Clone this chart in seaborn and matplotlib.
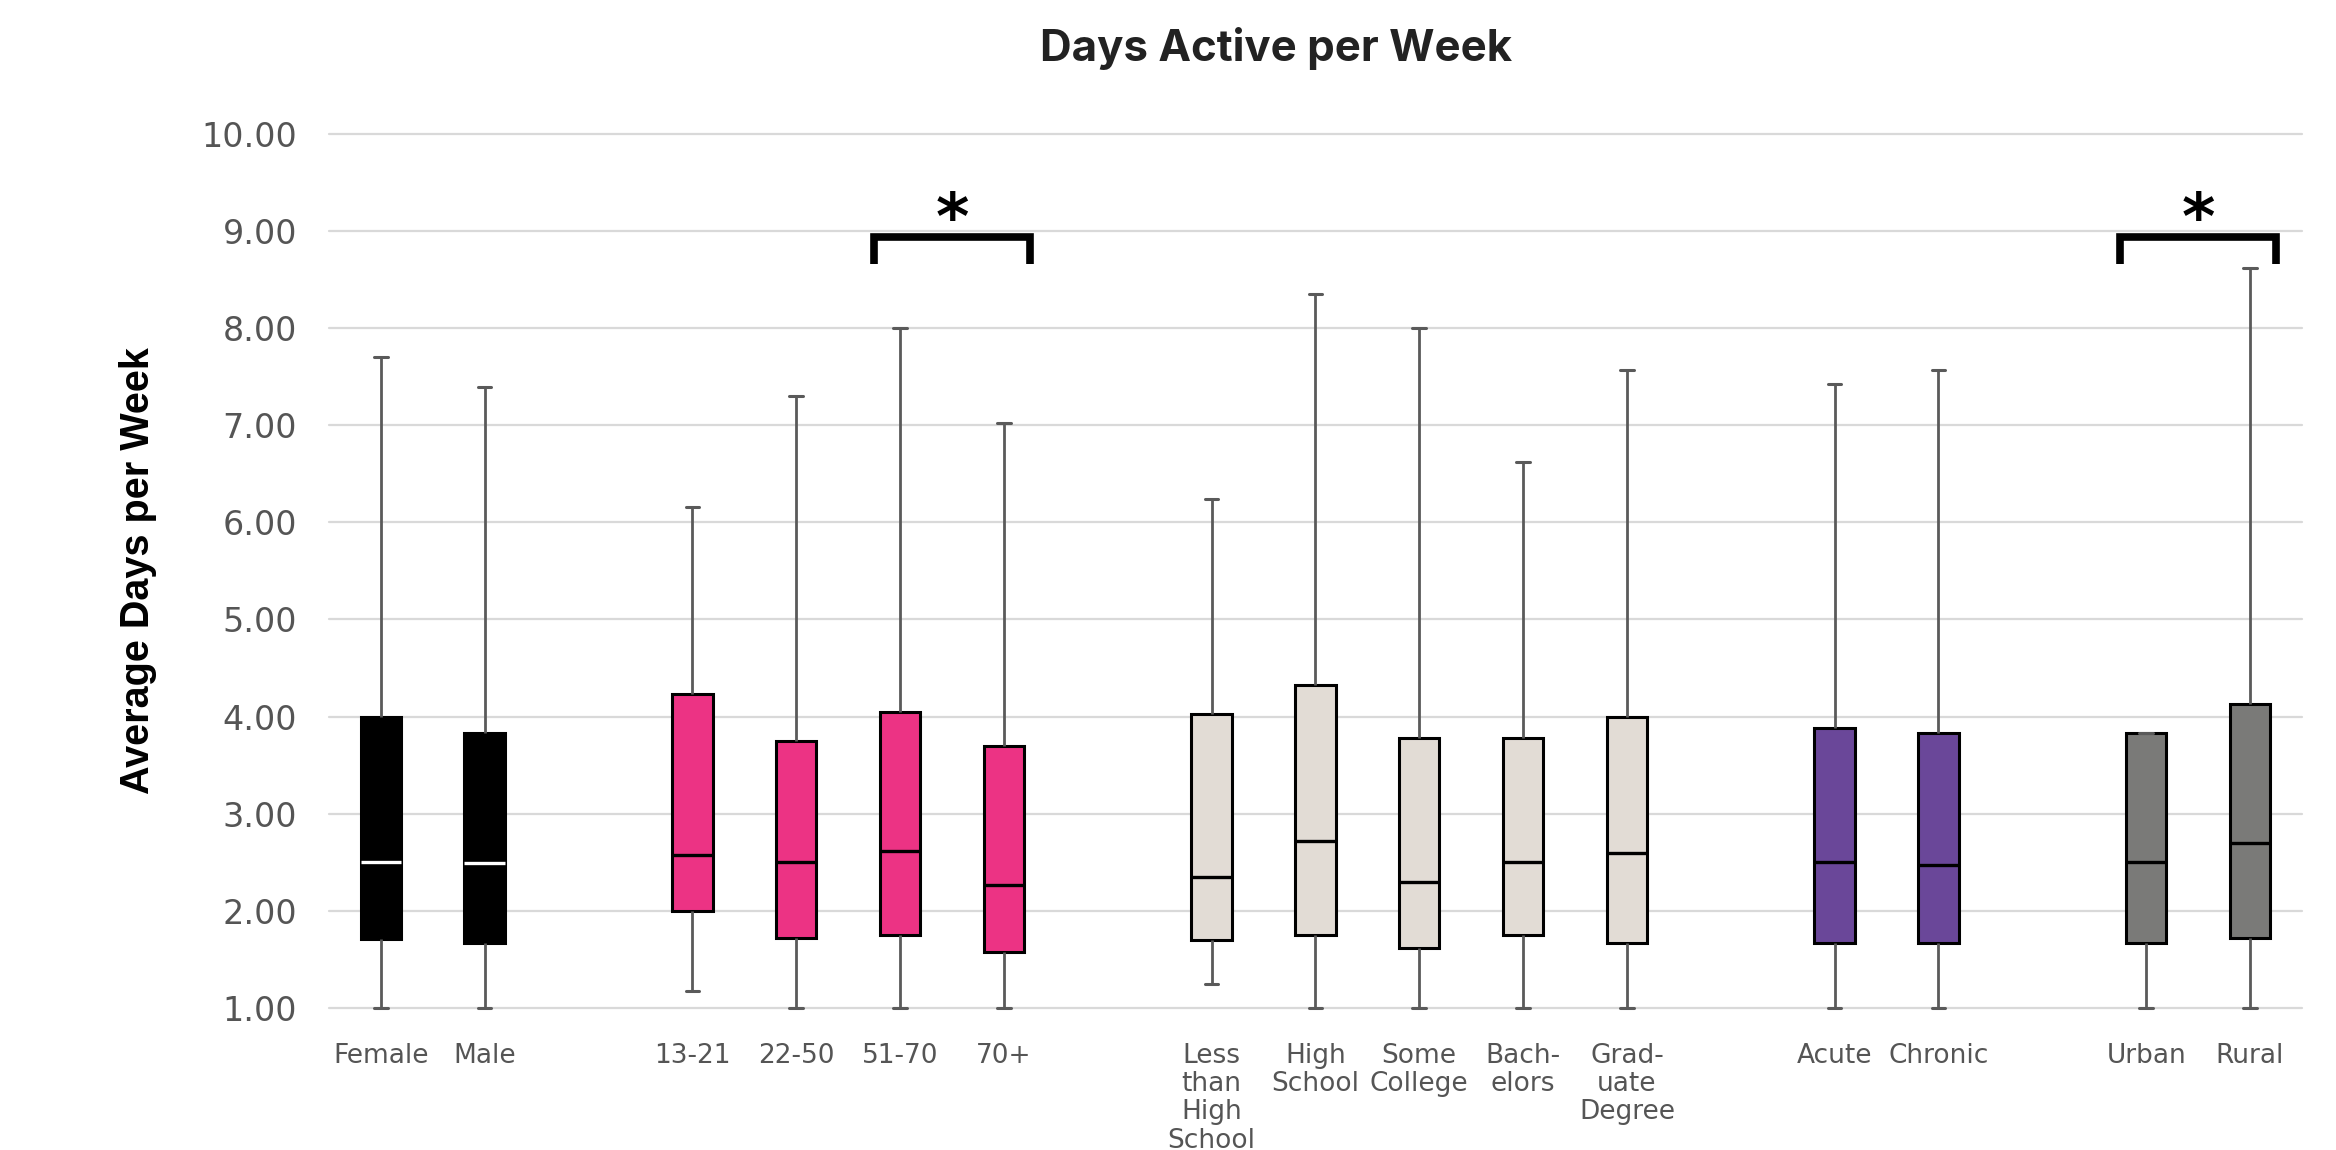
import matplotlib
matplotlib.use("Agg")
import matplotlib.pyplot as plt
import seaborn as sns
import pandas as pd
import numpy as np

# ---------------- data ----------------
categories = ["Female", "Male",
              "13-21", "22-50", "51-70", "70+",
              "Less than High School", "High School", "Some College", "Bachelors", "Graduate Degree",
              "Acute", "Chronic",
              "Urban", "Rural"]
tick_labels = ["Female", "Male",
               "13-21", "22-50", "51-70", "70+",
               "Less\nthan\nHigh\nSchool", "High\nSchool", "Some\nCollege", "Bach-\nelors", "Grad-\nuate\nDegree",
               "Acute", "Chronic",
               "Urban", "Rural"]
groups = ["Sex", "Sex",
          "Age", "Age", "Age", "Age",
          "Education", "Education", "Education", "Education", "Education",
          "Condition", "Condition",
          "Location", "Location"]
whisker_low = [1.00, 1.00, 1.17, 1.00, 1.00, 1.00, 1.25, 1.00, 1.00, 1.00, 1.00, 1.00, 1.00, 1.00, 1.00]
q1 =          [1.71, 1.67, 2.00, 1.72, 1.75, 1.58, 1.70, 1.75, 1.62, 1.75, 1.67, 1.67, 1.67, 1.67, 1.72]
median =      [2.50, 2.49, 2.57, 2.50, 2.62, 2.27, 2.35, 2.72, 2.30, 2.50, 2.60, 2.50, 2.47, 2.50, 2.70]
q3 =          [4.00, 3.83, 4.23, 3.75, 4.05, 3.70, 4.03, 4.33, 3.78, 3.78, 4.00, 3.88, 3.83, 3.83, 4.13]
whisker_high = [7.70, 7.39, 6.16, 7.30, 8.00, 7.02, 6.24, 8.35, 8.00, 6.62, 7.57, 7.42, 7.57, 3.83, 8.62]
significant_pairs = [("51-70", "70+"), ("Urban", "Rural")]

group_colors = {"Sex": "#000000", "Age": "#EC3384", "Education": "#E2DCD5",
                "Condition": "#6A4799", "Location": "#7A7A78"}
median_colors = {"Sex": "#FFFFFF", "Age": "#000000", "Education": "#000000",
                 "Condition": "#000000", "Location": "#000000"}

# ---------------- layout positions (gap of one slot between groups) ----------------
positions = []
p = 0
for i, g in enumerate(groups):
    if i > 0:
        p += 1 if g == groups[i - 1] else 2
    positions.append(p)
pos_of = dict(zip(categories, positions))

rows = []
for c, g, ps, a, b, m, d, e in zip(categories, groups, positions, whisker_low, q1, median, q3, whisker_high):
    for v in (a, b, m, d, e):
        rows.append({"category": c, "group": g, "pos": ps, "value": v})
df = pd.DataFrame(rows)

# ---------------- figure ----------------
sns.set_theme(style="white")
plt.rcParams["font.family"] = ["DejaVu Sans"]

fig = plt.figure(figsize=(23.36, 11.5), dpi=100)
ax = fig.add_axes([0.1408, 0.1235, 0.8446, 0.7602])

for g in dict.fromkeys(groups):
    sub = df[df["group"] == g]
    sns.boxplot(data=sub, x="pos", y="value", native_scale=True, ax=ax,
                width=0.39, whis=(0, 100), showfliers=False,
                color=group_colors[g], saturation=1, linecolor="black", linewidth=2.2,
                boxprops=dict(edgecolor="black", linewidth=2.2),
                medianprops=dict(color=median_colors[g], linewidth=2.4),
                whiskerprops=dict(color="#5a5a5a", linewidth=2.0),
                capprops=dict(color="#5a5a5a", linewidth=2.2),
                capwidths=0.13)

ax.set_xlim(-0.5, 18.5)
ax.set_ylim(1, 10)
ax.set_yticks(np.arange(1, 11))
ax.set_yticklabels([f"{v:.2f}" for v in np.arange(1, 11)])
ax.set_xticks(positions)
ax.set_xticklabels(tick_labels)

ax.grid(axis="y", color="#d9d9d9", linewidth=1.6)
ax.grid(axis="x", visible=False)
ax.set_axisbelow(True)
for s in ax.spines.values():
    s.set_visible(False)
for gl in ax.yaxis.get_gridlines():
    gl.set_clip_on(False)
for art in list(ax.lines) + list(ax.patches):
    art.set_clip_on(False)

ax.tick_params(axis="x", length=0, pad=25, labelsize=19, labelcolor="#555555")
ax.tick_params(axis="y", length=0, pad=23, labelsize=24, labelcolor="#555555")
for lab in ax.get_xticklabels():
    lab.set_linespacing(1.12)
    lab.set_verticalalignment("top")

ax.set_xlabel("")
ax.set_ylabel("Average Days per Week", fontsize=28.5, fontweight="bold",
              family=["Liberation Sans", "DejaVu Sans"], color="black")
ax.yaxis.set_label_coords(-0.087, 0.5)

fig.text(0.5462, 0.958, "Days Active per Week", ha="center", va="center",
         fontsize=31.5, fontweight="bold", family=["Inter", "Liberation Sans", "DejaVu Sans"],
         color="#222222")

# significance brackets
for a_cat, b_cat in significant_pairs:
    x0 = pos_of[a_cat] - 0.25
    x1 = pos_of[b_cat] + 0.25
    ax.plot([x0, x0, x1, x1], [8.66, 8.94, 8.94, 8.66], color="black", linewidth=5.5,
            solid_joinstyle="miter", solid_capstyle="butt", clip_on=False, zorder=5)
    ax.text((pos_of[a_cat] + pos_of[b_cat]) / 2, 8.92, "*", ha="center", va="baseline",
            fontsize=46, fontweight="bold", color="black", zorder=5)

fig.savefig("out.png", dpi=100)
